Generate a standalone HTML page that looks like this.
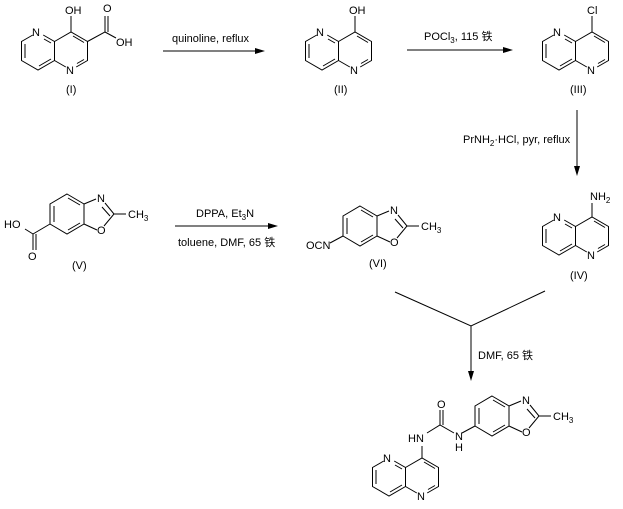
<!DOCTYPE html>
<html><head><meta charset="utf-8"><style>
html,body{margin:0;padding:0;background:#fff;}
svg{display:block;}
text{font-family:"Liberation Sans","Noto Sans CJK SC",sans-serif;font-size:11px;fill:#000;}
</style></head><body>
<svg width="623" height="509" viewBox="0 0 623 509" xmlns="http://www.w3.org/2000/svg">
<defs>
<g id="nap" stroke="#000" stroke-width="1" fill="none">
<path d="M43.2,35 L54.5,41.5 L54.5,60.5 L38,70 L21.5,60.5 L21.5,41.5 L32.8,35"/>
<path d="M54.5,41.5 L71,32 L87.5,41.5 L87.5,60.5 L76.2,67"/>
<path d="M65.8,67 L54.5,60.5"/>
<path d="M25,44 L25,58 M39,66 L51,59 M44,39 L51,43 M73,36 L84,42.5 M84,59.5 L77,63.5"/>
</g>
<g id="bzx" stroke="#000" stroke-width="1" fill="none">
<path d="M67,194 L84,204 L84,224 L67,234 L50,224 L50,204 Z"/>
<path d="M54,206 L54,222 M68,198 L80,205 M80,223 L68,230"/>
<path d="M84,204 L96,199 M105,203 L114,214 L104,226 M97,230 L84,224"/>
<path d="M102,207 L110,216"/>
<path d="M114,214 L126,214"/>
</g>
</defs>

<!-- (I) -->
<use href="#nap"/>
<text x="32" y="36">N</text><text x="66" y="74">N</text>
<path d="M71,32 L71,16 M87.5,41.5 L105,32 L105,16 M108,32 L108,16 M105,32 L116,38" stroke="#000" fill="none"/>
<text x="65" y="14">OH</text><text x="103" y="12">O</text><text x="116" y="46">OH</text>
<text x="66" y="93">(I)</text>

<!-- arrow 1 -->
<path d="M163,51 L262,51" stroke="#000"/><path d="M255,48 L265,51 L255,54 Z"/>
<text x="172" y="42">quinoline, reflux</text>

<!-- (II) -->
<use href="#nap" x="284"/>
<text x="316" y="36">N</text><text x="350" y="74">N</text>
<path d="M355,32 L355,16" stroke="#000"/>
<text x="349" y="14">OH</text>
<text x="334" y="93">(II)</text>

<!-- arrow 2 -->
<path d="M407,50 L510,50" stroke="#000"/><path d="M503,47 L513,50 L503,53 Z"/>
<text x="424" y="40">POCl<tspan font-size="8" dy="3">3</tspan><tspan dy="-3">, 115 铁</tspan></text>

<!-- (III) -->
<use href="#nap" x="521"/>
<text x="553" y="36">N</text><text x="587" y="74">N</text>
<path d="M592,32 L592,16" stroke="#000"/>
<text x="587" y="14">Cl</text>
<text x="570" y="93">(III)</text>

<!-- vertical arrow -->
<path d="M577,110 L577,172" stroke="#000"/><path d="M574,166 L577,176 L580,166 Z"/>
<text x="463" y="143">PrNH<tspan font-size="8" dy="3">2</tspan><tspan dy="-3">·HCl, pyr, reflux</tspan></text>

<!-- (IV) -->
<use href="#nap" x="521" y="185"/>
<text x="553" y="221">N</text><text x="587" y="259">N</text>
<path d="M592,217 L592,203" stroke="#000"/>
<text x="590" y="200">NH<tspan font-size="8" dy="3">2</tspan></text>
<text x="570" y="279">(IV)</text>

<!-- (V) -->
<use href="#bzx"/>
<text x="97" y="202">N</text><text x="97" y="234">O</text>
<text x="128" y="218">CH<tspan font-size="8" dy="3">3</tspan></text>
<path d="M50,224 L33,234 L33,250 M36,234 L36,250 M33,234 L25,229" stroke="#000" fill="none"/>
<text x="4" y="228">HO</text><text x="28" y="260">O</text>
<text x="72" y="269">(V)</text>

<!-- arrow 3 -->
<path d="M175,226 L275,226" stroke="#000"/><path d="M268,223 L278,226 L268,229 Z"/>
<text x="196" y="217">DPPA, Et<tspan font-size="8" dy="3">3</tspan><tspan dy="-3">N</tspan></text>
<text x="178" y="246">toluene, DMF, 65 铁</text>

<!-- (VI) -->
<use href="#bzx" x="293" y="12"/>
<text x="390" y="214">N</text><text x="390" y="246">O</text>
<text x="421" y="230">CH<tspan font-size="8" dy="3">3</tspan></text>
<path d="M343,236 L330,243" stroke="#000"/>
<text x="306" y="249">OCN</text>
<text x="369" y="267">(VI)</text>

<!-- converging -->
<path d="M395,292 L471,326 L545,291 M471,326 L471,377" stroke="#000" fill="none"/>
<path d="M468,371 L471,381 L474,371 Z"/>
<text x="478" y="359">DMF, 65 铁</text>

<!-- final product -->
<use href="#nap" x="351" y="426"/>
<text x="383" y="462">N</text><text x="417" y="500">N</text>
<use href="#bzx" x="425" y="202"/>
<text x="522" y="404">N</text><text x="522" y="436">O</text>
<text x="553" y="420">CH<tspan font-size="8" dy="3">3</tspan></text>
<path d="M422,458 L422,446 M427,433 L440,425 L454,433 M440,425 L440,410 M443,425 L443,410 M475,426 L462,433" stroke="#000" fill="none"/>
<text x="408" y="442">HN</text>
<text x="437" y="408">O</text>
<text x="455" y="440">N</text><text x="455" y="451">H</text>
</svg>
</body></html>
